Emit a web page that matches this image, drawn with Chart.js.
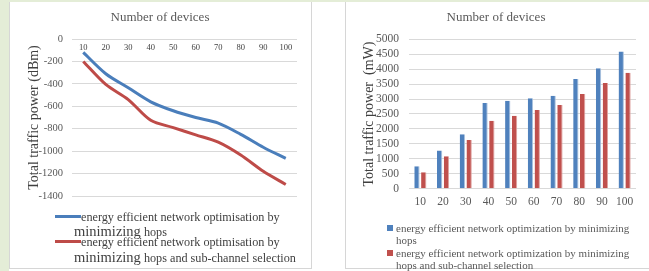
<!DOCTYPE html>
<html><head><meta charset="utf-8">
<script src="https://cdn.jsdelivr.net/npm/chart.js@4.4.1/dist/chart.umd.min.js"></script>
<style>
html,body{margin:0;padding:0;background:#fff;width:649px;height:271px;overflow:hidden;position:relative;font-family:"Liberation Serif","Times New Roman",serif;}
.abs{position:absolute;white-space:nowrap;}
.t{color:#595959;}
.lg{color:#404040;font-size:12.2px;line-height:16px;}
.big{font-size:14.5px;}
.rl{color:#595959;font-size:11px;line-height:14px;}
</style></head><body>
<div class="abs" style="left:0;top:0;width:9px;height:271px;background:#e4edd7"></div>
<div class="abs" style="left:0;top:0;width:649px;height:2px;background:#e4edd7"></div>
<div class="abs" style="left:9px;top:2px;width:301px;height:266px;border-left:1px solid #d6d6d6;border-right:1px solid #d6d6d6;border-bottom:1px solid #d6d6d6"></div>
<div class="abs" style="left:345px;top:2px;width:320px;height:266px;border-left:1px solid #d6d6d6;border-bottom:1px solid #d6d6d6"></div>

<canvas id="c1" class="abs" width="330" height="271" style="left:0;top:0"></canvas>
<canvas id="c2" class="abs" width="319" height="271" style="left:330px;top:0"></canvas>

<div class="abs t" style="left:60px;width:200px;text-align:center;top:9px;font-size:13px;line-height:16px">Number of devices</div>
<div class="abs t" style="left:396px;width:200px;text-align:center;top:9px;font-size:13px;line-height:16px">Number of devices</div>

<!-- left legend -->
<div class="abs" style="left:55px;top:214.5px;width:26px;height:3px;background:#4a7ebb"></div>
<div class="abs lg" style="left:81px;top:209px">energy efficient network optimisation by</div>
<div class="abs lg" style="left:74px;top:223px"><span class="big">minimizing</span> hops</div>
<div class="abs" style="left:55px;top:239.5px;width:26px;height:3px;background:#be4b48"></div>
<div class="abs lg" style="left:81px;top:234px">energy efficient network optimisation by</div>
<div class="abs lg" style="left:74px;top:249px"><span class="big">minimizing</span> hops and sub-channel selection</div>

<!-- right legend -->
<div class="abs" style="left:387px;top:225px;width:6px;height:6px;background:#4f81bd"></div>
<div class="abs rl" style="left:396px;top:221px">energy efficient network optimization by minimizing</div>
<div class="abs rl" style="left:396px;top:233px">hops</div>
<div class="abs" style="left:387px;top:250px;width:6px;height:6px;background:#c0504d"></div>
<div class="abs rl" style="left:396px;top:246px">energy efficient network optimization by minimizing</div>
<div class="abs rl" style="left:396px;top:258px">hops and sub-channel selection</div>

<script>
const categories = ["10","20","30","40","50","60","70","80","90","100"];
const dbmHops = [-120,-310,-435,-560,-640,-700,-750,-850,-965,-1065];
const dbmHopsSub = [-200,-405,-540,-725,-790,-855,-920,-1035,-1180,-1297];
const mwHops = [750,1280,1825,2870,2945,3030,3110,3670,4030,4590];
const mwHopsSub = [550,1090,1630,2270,2445,2630,2800,3170,3540,3880];
const yTicksLeft = {min:-1400,max:0,step:200};
const yTicksRight = {min:0,max:5000,step:500};

const serif = "'Liberation Serif','Times New Roman',serif";
Chart.defaults.font.family = serif;
Chart.defaults.animation = false;
const plain = v => String(v);

const topLabels = {
  id:'topLabels',
  afterDraw(chart){
    const xs = chart.scales.x, ys = chart.scales.y, ctx = chart.ctx;
    ctx.save();
    ctx.font = "8.5px " + serif;
    ctx.fillStyle = "#404040";
    ctx.textAlign = "center";
    ctx.textBaseline = "middle";
    const y0 = ys.getPixelForValue(0) + 9;
    categories.forEach((c,i)=>ctx.fillText(c, xs.getPixelForValue(i), y0));
    ctx.restore();
  }
};

new Chart(document.getElementById('c1'), {
  type:'line',
  data:{labels:categories, datasets:[
    {data:dbmHops, borderColor:'#4a7ebb', borderWidth:3, pointRadius:0, tension:0.3, fill:false},
    {data:dbmHopsSub, borderColor:'#be4b48', borderWidth:3, pointRadius:0, tension:0.3, fill:false}
  ]},
  options:{
    responsive:false, devicePixelRatio:1,
    layout:{padding:{left:0,top:39,right:33,bottom:75}},
    plugins:{legend:{display:false},tooltip:{enabled:false}},
    scales:{
      x:{display:false, offset:true},
      y:{min:yTicksLeft.min,max:yTicksLeft.max,
        ticks:{stepSize:yTicksLeft.step,padding:9,color:'#595959',font:{size:10.5},autoSkip:false,callback:plain},
        grid:{color:'#d9d9d9',drawTicks:false,lineWidth:1},
        border:{display:false},
        title:{display:true,text:'Total traffic power (dBm)',color:'#404040',font:{size:14},padding:{top:25.5,bottom:0}},
        afterFit(s){s.width=72;}
      }
    }
  },
  plugins:[topLabels]
});

new Chart(document.getElementById('c2'), {
  type:'bar',
  data:{labels:categories, datasets:[
    {data:mwHops, backgroundColor:'#4f81bd', borderColor:'#a9c1de', borderWidth:{right:1,left:0,top:0,bottom:0}, borderSkipped:false, categoryPercentage:0.6, barPercentage:0.78},
    {data:mwHopsSub, backgroundColor:'#c0504d', borderColor:'#dfa3a1', borderWidth:{right:1,left:0,top:0,bottom:0}, borderSkipped:false, categoryPercentage:0.6, barPercentage:0.78}
  ]},
  options:{
    responsive:false, devicePixelRatio:1,
    layout:{padding:{left:0,top:39.3,right:13,bottom:62.3}},
    plugins:{legend:{display:false},tooltip:{enabled:false}},
    scales:{
      x:{grid:{display:false,drawTicks:false},border:{display:false},
        ticks:{padding:6,color:'#595959',font:{size:11.5},maxRotation:0,autoSkip:false},
        afterFit(s){s.height=20;}
      },
      y:{min:yTicksRight.min,max:yTicksRight.max,
        ticks:{stepSize:yTicksRight.step,padding:10,color:'#595959',font:{size:11.5},autoSkip:false,callback:plain},
        grid:{color:'#d9d9d9',drawTicks:false,lineWidth:1},
        border:{display:false},
        title:{display:true,text:'Total traffic power  (mW)',color:'#404040',font:{size:14},padding:{top:30.5,bottom:0}},
        afterFit(s){s.width=79;}
      }
    }
  }
});
</script>
</body></html>
